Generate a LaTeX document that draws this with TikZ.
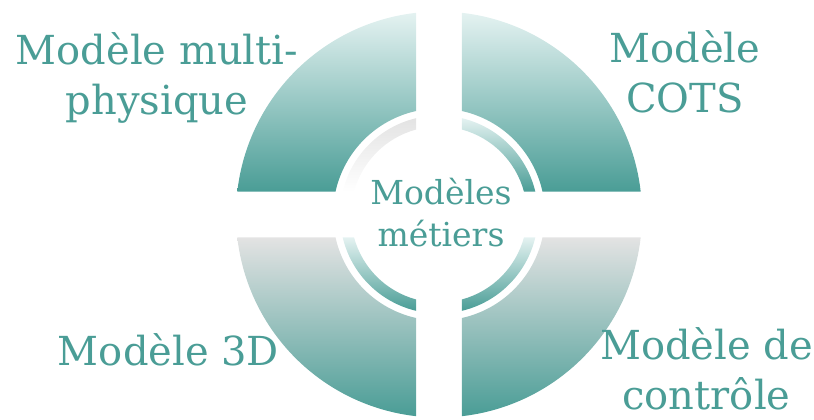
\documentclass[tikz,border=0pt]{standalone}
\usepackage{fontspec}
\setmainfont{DejaVu Serif}
\usepackage{tikz}
\usetikzlibrary{positioning}

\definecolor{tealdark}{HTML}{4A9D96}
\definecolor{teallight}{HTML}{E4F2F1}
\definecolor{greylight}{HTML}{E3E3E3}
\definecolor{greymid}{HTML}{98AAA7}

\begin{document}
\begin{tikzpicture}[
    x=1pt, y=1pt,
    label/.style={text=tealdark, align=center, inner sep=0pt, font=\fontsize{40}{50}\selectfont},
    core/.style={text=tealdark, align=center, inner sep=0pt, font=\fontsize{33}{42}\selectfont}
]
\useasboundingbox (-439,-205.5) rectangle (375,214.5);
% Outer quarters
\foreach \ang/\topc in {135/teallight, 45/teallight, 225/greylight, 315/greylight} {
    \pgfmathsetmacro\dR{asin(23/203)}
    \pgfmathsetmacro\dr{asin(23/106)}
    \shade[top color=\topc, bottom color=tealdark]
        (\ang-45+\dR:203) arc[start angle=\ang-45+\dR, end angle=\ang+45-\dR, radius=203]
        -- (\ang+45-\dr:106) arc[start angle=\ang+45-\dr, end angle=\ang-45+\dr, radius=106] -- cycle;
}
% Inner ring
\foreach \ang/\topc/\midc/\botc in {135/greylight/greymid/white, 45/teallight/teallight!50!tealdark/tealdark,
                                     225/teallight/teallight!50!tealdark/tealdark, 315/teallight/teallight!50!tealdark/tealdark} {
    \pgfmathsetmacro\dR{asin(23/99)}
    \pgfmathsetmacro\dr{asin(23/88)}
    \shade[top color=\topc, middle color=\midc, bottom color=\botc]
        (\ang-45+\dR:99) arc[start angle=\ang-45+\dR, end angle=\ang+45-\dR, radius=99]
        -- (\ang+45-\dr:88) arc[start angle=\ang+45-\dr, end angle=\ang-45+\dr, radius=88] -- cycle;
}
% Labels (base = last line)
\node (multi) [label, anchor=base] at (-282,99.5) {Modèle multi-\\physique};
\node (cots) [label, anchor=base] at (246,101.5) {Modèle\\COTS};
\node (troisd) [label, anchor=base] at (-270.5,-150.5) {Modèle 3D};
\node (controle) [label, anchor=base] at (267.5,-195) {Modèle de\\contrôle};
\node (metiers) [core, anchor=base] at (2,-32.5) {Modèles\\métiers};
\end{tikzpicture}
\end{document}
